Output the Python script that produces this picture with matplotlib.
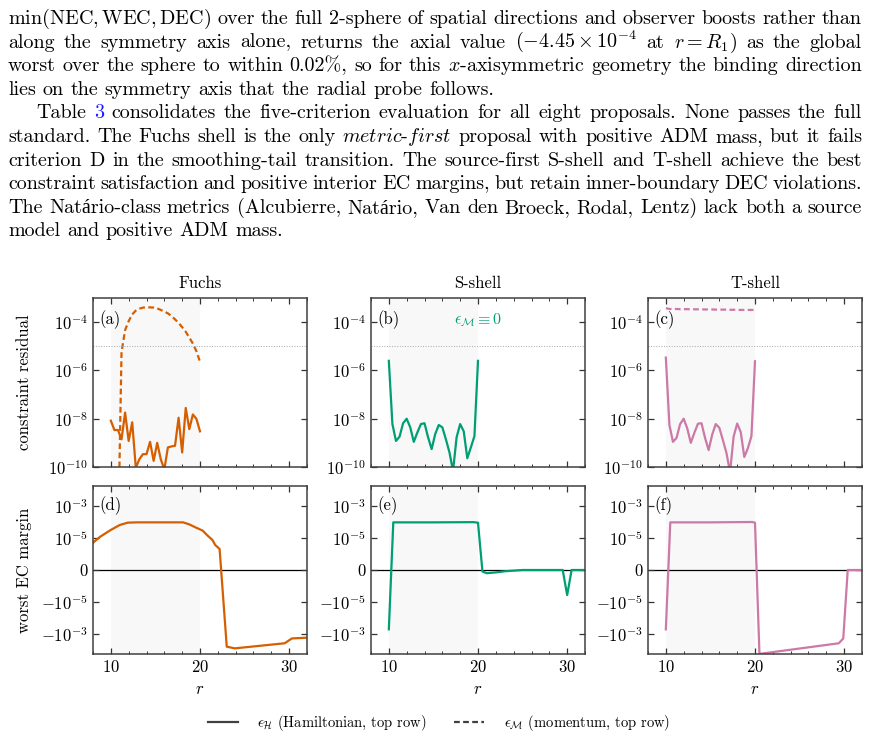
import matplotlib.pyplot as plt
from matplotlib.lines import Line2D
from matplotlib.ticker import MultipleLocator, NullLocator

plt.rcParams['font.family'] = ['cmr10', 'Liberation Serif']
plt.rcParams['mathtext.fontset'] = 'cm'
plt.rcParams['axes.formatter.use_mathtext'] = True
plt.rcParams['font.size'] = 12

# ---------------- data ----------------
titles = ['Fuchs', 'S-shell', 'T-shell']
colors = ['#d55e00', '#009e73', '#cc79a7']

# top row: constraint residuals on the shell grid
r_top = [10.0, 10.4, 10.8, 11.2, 11.6, 12.0, 12.4, 12.8, 13.2, 13.6, 14.0, 14.4, 14.8,
         15.2, 15.6, 16.0, 16.4, 16.8, 17.2, 17.6, 18.0, 18.4, 18.8, 19.2, 19.6, 20.0]

fuchs_H = [8.3e-9, 3.4e-9, 3.4e-9, 1.4e-9, 1.8e-8, 1.2e-9, 7.1e-9, 9.3e-11, 2.1e-10,
           3.4e-10, 3.4e-10, 1.1e-9, 1.8e-10, 1.0e-9, 2.1e-10, 7.9e-11, 6.5e-10, 7.1e-10,
           7.6e-10, 1.1e-8, 4.0e-10, 2.8e-8, 3.7e-9, 1.5e-8, 9.8e-9, 3.0e-9]
fuchs_M = [1e-14, 1e-14, 5e-14, 5.8e-6, 4.7e-5, 1.1e-4, 2.1e-4, 3.0e-4, 3.6e-4, 4.0e-4,
           4.1e-4, 4.1e-4, 4.0e-4, 3.7e-4, 3.2e-4, 2.75e-4, 2.3e-4, 1.8e-4, 1.3e-4, 9.3e-5,
           6.2e-5, 4.0e-5, 2.3e-5, 1.3e-5, 6.2e-6, 2.3e-6]

sshell_H = [2.5e-6, 6.0e-9, 1.2e-9, 1.8e-9, 6.5e-9, 1.0e-8, 4.4e-9, 1.1e-9, 2.7e-9, 6.0e-9,
            6.5e-9, 1.7e-9, 5.5e-10, 2.3e-9, 5.5e-9, 4.4e-9, 1.4e-9, 4.0e-10, 6.8e-11,
            1.7e-9, 6.0e-9, 3.0e-9, 2.3e-10, 6.5e-10, 1.9e-9, 2.5e-6]

tshell_H = [3.4e-6, 5.5e-9, 1.1e-9, 1.6e-9, 6.0e-9, 1.0e-8, 4.0e-9, 1.0e-9, 2.6e-9, 6.2e-9,
            6.5e-9, 1.6e-9, 5.0e-10, 2.2e-9, 6.0e-9, 4.2e-9, 1.3e-9, 3.8e-10, 6.0e-11,
            1.8e-9, 6.3e-9, 2.8e-9, 2.6e-10, 6.0e-10, 1.9e-9, 2.4e-6]
tshell_M = [3.8e-4, 3.5e-4, 3.5e-4, 3.5e-4, 3.45e-4, 3.45e-4, 3.45e-4, 3.4e-4, 3.4e-4,
            3.4e-4, 3.4e-4, 3.35e-4, 3.35e-4, 3.35e-4, 3.3e-4, 3.3e-4, 3.3e-4, 3.3e-4,
            3.25e-4, 3.25e-4, 3.25e-4, 3.2e-4, 3.2e-4, 3.2e-4, 3.2e-4, 3.2e-4]

# bottom row: worst energy-condition margin
r_fuchs = [8.0, 8.8, 10.0, 11.0, 11.9, 12.9, 14.0, 15.0, 16.0, 17.0, 18.1, 18.8, 19.5,
           20.3, 20.8, 21.4, 21.7, 22.2, 23.0, 23.9, 29.5, 30.3, 32.0]
ec_fuchs = [5.1e-6, 1.2e-5, 3.2e-5, 6.5e-5, 9.1e-5, 9.5e-5, 9.5e-5, 9.5e-5, 9.5e-5, 9.5e-5,
            9.5e-5, 7.1e-5, 4.6e-5, 2.9e-5, 1.5e-5, 7.5e-6, 3.7e-6, 2.05e-6, -6.2e-3,
            -7.9e-3, -3.8e-3, -1.9e-3, -1.7e-3]

r_sshell = [10.0, 10.5, 15.0, 19.5, 20.0, 20.5, 21.0, 22.0, 23.0, 24.0, 25.0, 29.5, 30.0,
            30.5, 32.0]
ec_sshell = [-5.1e-4, 9.5e-5, 9.5e-5, 9.8e-5, 9.0e-5, -1.0e-7, -2.0e-7, -1.5e-7, -8e-8,
             -4e-8, 0.0, 0.0, -3.7e-6, 0.0, 0.0]

r_tshell = [10.0, 10.5, 15.0, 19.7, 20.0, 20.5, 29.4, 29.9, 30.4, 32.0]
ec_tshell = [-5.1e-4, 9.5e-5, 9.5e-5, 1.0e-4, 9.0e-5, -1.75e-2, -3.8e-3, -1.9e-3, 0.0, 0.0]

paragraph = [
    r"$\min(\mathrm{NEC},\mathrm{WEC},\mathrm{DEC})$ over the full 2-sphere of spatial directions and observer boosts rather than",
    r"along the symmetry axis alone, returns the axial value $(-4.45\times10^{-4}$ at $r=R_1)$ as the global",
    r"worst over the sphere to within 0.02%, so for this $x$-axisymmetric geometry the binding direction",
    "lies on the symmetry axis that the radial probe follows.",
    "Table 3 consolidates the five-criterion evaluation for all eight proposals. None passes the full",
    r"standard. The Fuchs shell is the only $\mathit{metric}$-$\mathit{first}$ proposal with positive ADM mass, but it fails",
    "criterion D in the smoothing-tail transition. The source-first S-shell and T-shell achieve the best",
    "constraint satisfaction and positive interior EC margins, but retain inner-boundary DEC violations.",
    "The Nat\u00e1rio-class metrics (Alcubierre, Nat\u00e1rio, Van den Broeck, Rodal, Lentz) lack both a source",
    "model and positive ADM mass.",
]

W, H = 878, 739
fig = plt.figure(figsize=(W / 100, H / 100), dpi=100)
renderer = fig.canvas.get_renderer()

# ---------------- paragraph text (justified word by word) ----------------
last_lines = (3, 9)


def start_x(i):
    return 36 if i == 4 else 8


def word_widths(line, size):
    arts = [fig.text(0, 0, tok, fontsize=size) for tok in line.split(' ')]
    ws = [a.get_window_extent(renderer).width for a in arts]
    for a in arts:
        a.remove()
    return ws


# pick the font size so that justified lines need roughly a normal interword space
fs0 = 12.0
ratios = []
for i, line in enumerate(paragraph):
    if i in last_lines:
        continue
    ws = word_widths(line, fs0)
    nat = sum(ws) + (len(ws) - 1) * fs0 * 100 / 72 * 0.333
    ratios.append((862 - start_x(i)) / nat)
fs = fs0 * sum(ratios) / len(ratios)
space = fs * 100 / 72 * 0.333

for i, line in enumerate(paragraph):
    x0 = start_x(i)
    ybase = 24 + i * 23.6
    arts = []
    for tok in line.split(' '):
        c = '#1a1aff' if (i == 4 and tok == '3') else 'k'
        arts.append(fig.text(0, 0, tok, fontsize=fs, color=c, va='baseline', ha='left'))
    ws = [a.get_window_extent(renderer).width for a in arts]
    if i in last_lines:
        gap = space
    else:
        gap = (862 - x0 - sum(ws)) / (len(ws) - 1)
    x = x0
    for a, w in zip(arts, ws):
        a.set_position((x / W, 1 - ybase / H))
        x += w + gap

# ---------------- axes ----------------
lefts = [93, 371, 648]
axes_top = [fig.add_axes([l / W, 1 - 467 / H, 214 / W, 169 / H]) for l in lefts]
axes_bot = [fig.add_axes([l / W, 1 - 654 / H, 214 / W, 168 / H]) for l in lefts]


def style(ax):
    ax.set_xlim(8, 32)
    ax.set_xticks([10, 20, 30])
    ax.xaxis.set_minor_locator(MultipleLocator(2))
    ax.yaxis.set_minor_locator(NullLocator())
    ax.tick_params(which='both', direction='in', top=True, right=True, color='0.2',
                   labelsize=12)
    ax.tick_params(which='major', length=4.5, width=0.9)
    ax.tick_params(which='minor', length=2.5, width=0.7)
    for s in ax.spines.values():
        s.set_linewidth(1.1)
        s.set_color('0.25')
    ax.axvspan(10, 20, color='#f8f8f8', zorder=0, lw=0)


dash = (2.6, 1.5)
top_H = [fuchs_H, sshell_H, tshell_H]
top_M = [fuchs_M, None, tshell_M]
for k, ax in enumerate(axes_top):
    style(ax)
    ax.set_yscale('log')
    ax.plot(r_top, top_H[k], color=colors[k], lw=1.6)
    if top_M[k] is not None:
        ax.plot(r_top, top_M[k], color=colors[k], lw=1.6, dashes=dash)
    ax.axhline(1e-5, color='0.65', ls=':', lw=0.7)
    ax.set_ylim(1e-10, 1e-3)
    ax.set_yticks([1e-10, 1e-8, 1e-6, 1e-4])
    ax.yaxis.set_minor_locator(NullLocator())
    ax.tick_params(labelbottom=False)
    ax.set_title(titles[k], fontsize=12, pad=7)
    ax.text(0.03, 0.87, '(%s)' % 'abc'[k], transform=ax.transAxes, fontsize=12,
            va='center', ha='left')

axes_top[1].text(0.5, 0.865, r'$\epsilon_{\mathcal{M}} \equiv 0$', color=colors[1],
                 transform=axes_top[1].transAxes, fontsize=11.5, ha='center', va='center')

bot_r = [r_fuchs, r_sshell, r_tshell]
bot_v = [ec_fuchs, ec_sshell, ec_tshell]
for k, ax in enumerate(axes_bot):
    style(ax)
    ax.set_yscale('symlog', linthresh=1e-6, linscale=0.9)
    ax.axhline(0, color='k', lw=0.9, zorder=1)
    ax.plot(bot_r[k], bot_v[k], color=colors[k], lw=1.6, zorder=2)
    ax.set_ylim(-1.78e-2, 1.78e-2)
    ax.set_yticks([-1e-3, -1e-5, 0, 1e-5, 1e-3])
    ax.yaxis.set_minor_locator(NullLocator())
    ax.set_xlabel('$r$', fontsize=12, labelpad=5)
    ax.text(0.03, 0.884, '(%s)' % 'def'[k], transform=ax.transAxes, fontsize=12,
            va='center', ha='left')

axes_top[0].set_ylabel('constraint residual', fontsize=12)
axes_top[0].yaxis.set_label_coords(-0.285, 0.5)
axes_bot[0].set_ylabel('worst EC margin', fontsize=12)
axes_bot[0].yaxis.set_label_coords(-0.285, 0.5)

handles = [Line2D([], [], color='#404040', lw=1.6),
           Line2D([], [], color='#404040', lw=1.6, dashes=dash)]
labels = [r'$\epsilon_{\mathcal{H}}$ (Hamiltonian, top row)',
          r'$\epsilon_{\mathcal{M}}$ (momentum, top row)']
fig.legend(handles, labels, loc='center', bbox_to_anchor=(0.5, 16 / H), ncol=2,
           frameon=False, fontsize=10.5, handlelength=2.05, handletextpad=1.35,
           columnspacing=1.9)

fig.savefig('out.png', dpi=100)
